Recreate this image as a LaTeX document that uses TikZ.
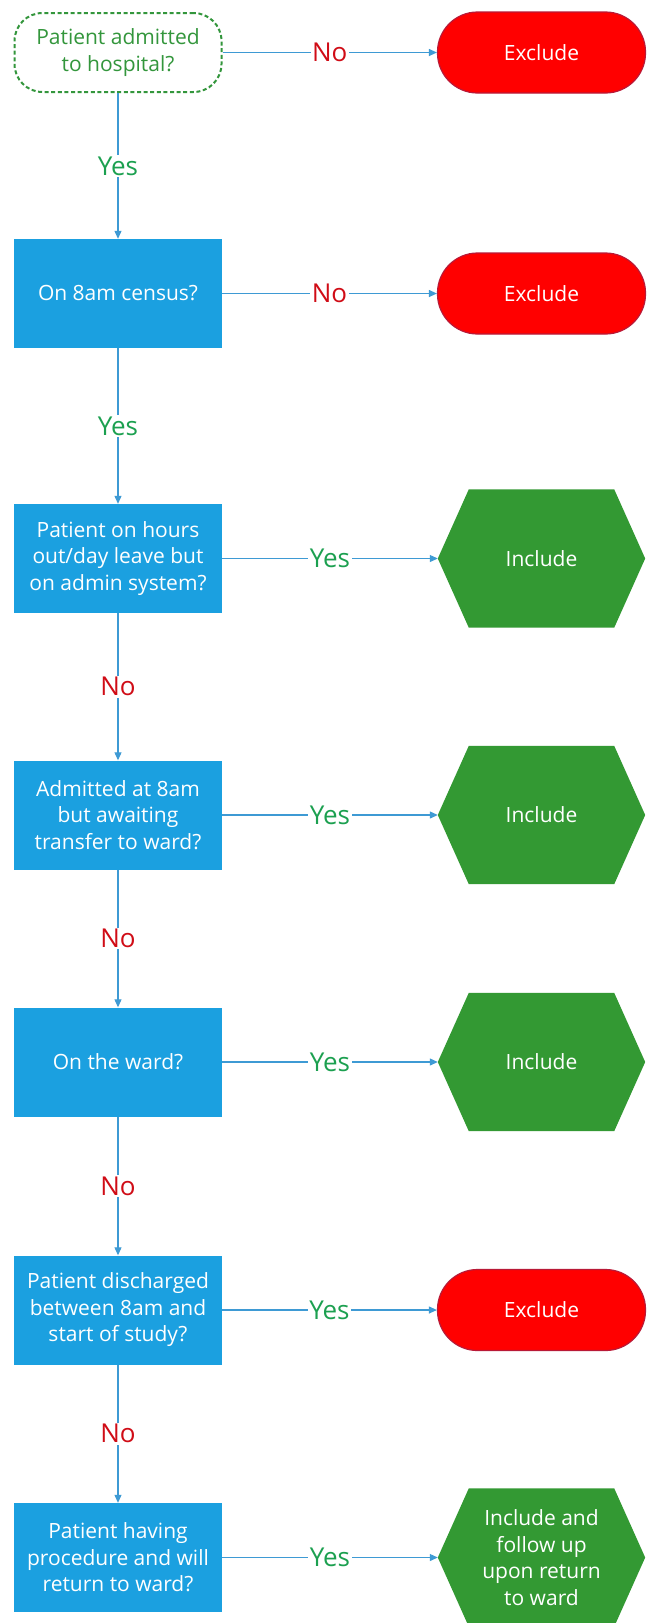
\documentclass[tikz,border=0pt]{standalone}
\usepackage{fontspec}
\setmainfont{Open Sans}
\usetikzlibrary{arrows.meta,calc,backgrounds}
\definecolor{boxblue}{RGB}{27,160,224}
\definecolor{linblue}{RGB}{62,154,212}
\definecolor{exred}{RGB}{255,0,0}
\definecolor{exborder}{RGB}{185,25,55}
\definecolor{hexgreen}{RGB}{51,153,51}
\definecolor{startgreen}{RGB}{51,150,60}
\definecolor{yesgreen}{RGB}{28,160,80}
\definecolor{nored}{RGB}{208,12,22}
\newcommand\hexfill[1]{\fill[hexgreen] ($(#1.north west)+(31,0)$) -- ($(#1.north east)+(-31,0)$) -- (#1.east) -- ($(#1.south east)+(-31,0)$) -- ($(#1.south west)+(31,0)$) -- (#1.west) -- cycle;}
\begin{document}
\begin{tikzpicture}[x=1pt,y=-1pt,
  txt/.style={font=\fontsize{21}{26.5}\selectfont, align=center, text=white},
  decision/.style={txt, fill=boxblue, minimum width=207.7pt, minimum height=109pt, inner sep=0pt},
  excl/.style={txt, fill=exred, draw=exborder, line width=1.2pt, rounded corners=40pt, minimum width=208pt, minimum height=81pt, inner sep=0pt},
  hexnode/.style={txt, minimum width=207pt, minimum height=138pt, inner sep=0pt},
  startnode/.style={font=\fontsize{21}{26.5}\selectfont, align=center, text=startgreen, draw=startgreen, dash pattern=on 4pt off 2.6pt, line width=2pt, rounded corners=28pt, minimum width=207pt, minimum height=79pt, inner sep=0pt},
  conn/.style={draw=linblue, line width=1.1pt, -{Triangle[length=8pt,width=7pt]}},
  lbl/.style={fill=white, inner sep=1.5pt, font=\fontsize{26}{30}\selectfont},
  yeslbl/.style={lbl, text=yesgreen},
  nolbl/.style={lbl, text=nored}]
\clip (0,0) rectangle (648,1623);
\begin{scope}[on background layer]
\fill[white] (0,0) rectangle (648,1623);
\end{scope}

\node[startnode] (start) at (118,52.5) {Patient admitted\\to hospital?};
\node[excl] (ex1) at (541.5,52.5) {Exclude};

\node[decision] (b2) at (118,293.5) {On 8am census?};
\node[excl] (ex2) at (541.5,293.5) {Exclude};

\node[decision] (b3) at (118,558.5) {Patient on hours\\out/day leave but\\on admin system?};
\node[hexnode] (h3) at (541.5,558.5) {Include};

\node[decision] (b4) at (118,815) {Admitted at 8am\\but awaiting\\transfer to ward?};
\node[hexnode] (h4) at (541.5,815) {Include};

\node[decision] (b5) at (118,1062) {On the ward?};
\node[hexnode] (h5) at (541.5,1062) {Include};

\node[decision] (b6) at (118,1310) {Patient discharged\\between 8am and\\start of study?};
\node[excl] (ex3) at (541.5,1310) {Exclude};

\node[decision] (b7) at (118,1557.5) {Patient having\\procedure and will\\return to ward?};
\node[hexnode] (h7) at (541.5,1557.5) {Include and\\follow up\\upon return\\to ward};

\begin{scope}[on background layer]
\hexfill{h3}
\hexfill{h4}
\hexfill{h5}
\hexfill{h7}
\end{scope}

\draw[conn] (start) -- node[nolbl]{No} (ex1);
\draw[conn] (start) -- node[yeslbl]{Yes} (b2);
\draw[conn] (b2) -- node[nolbl]{No} (ex2);
\draw[conn] (b2) -- node[yeslbl]{Yes} (b3);
\draw[conn] (b3) -- node[yeslbl]{Yes} (h3);
\draw[conn] (b3) -- node[nolbl]{No} (b4);
\draw[conn] (b4) -- node[yeslbl]{Yes} (h4);
\draw[conn] (b4) -- node[nolbl]{No} (b5);
\draw[conn] (b5) -- node[yeslbl]{Yes} (h5);
\draw[conn] (b5) -- node[nolbl]{No} (b6);
\draw[conn] (b6) -- node[yeslbl]{Yes} (ex3);
\draw[conn] (b6) -- node[nolbl]{No} (b7);
\draw[conn] (b7) -- node[yeslbl]{Yes} (h7);
\end{tikzpicture}
\end{document}
